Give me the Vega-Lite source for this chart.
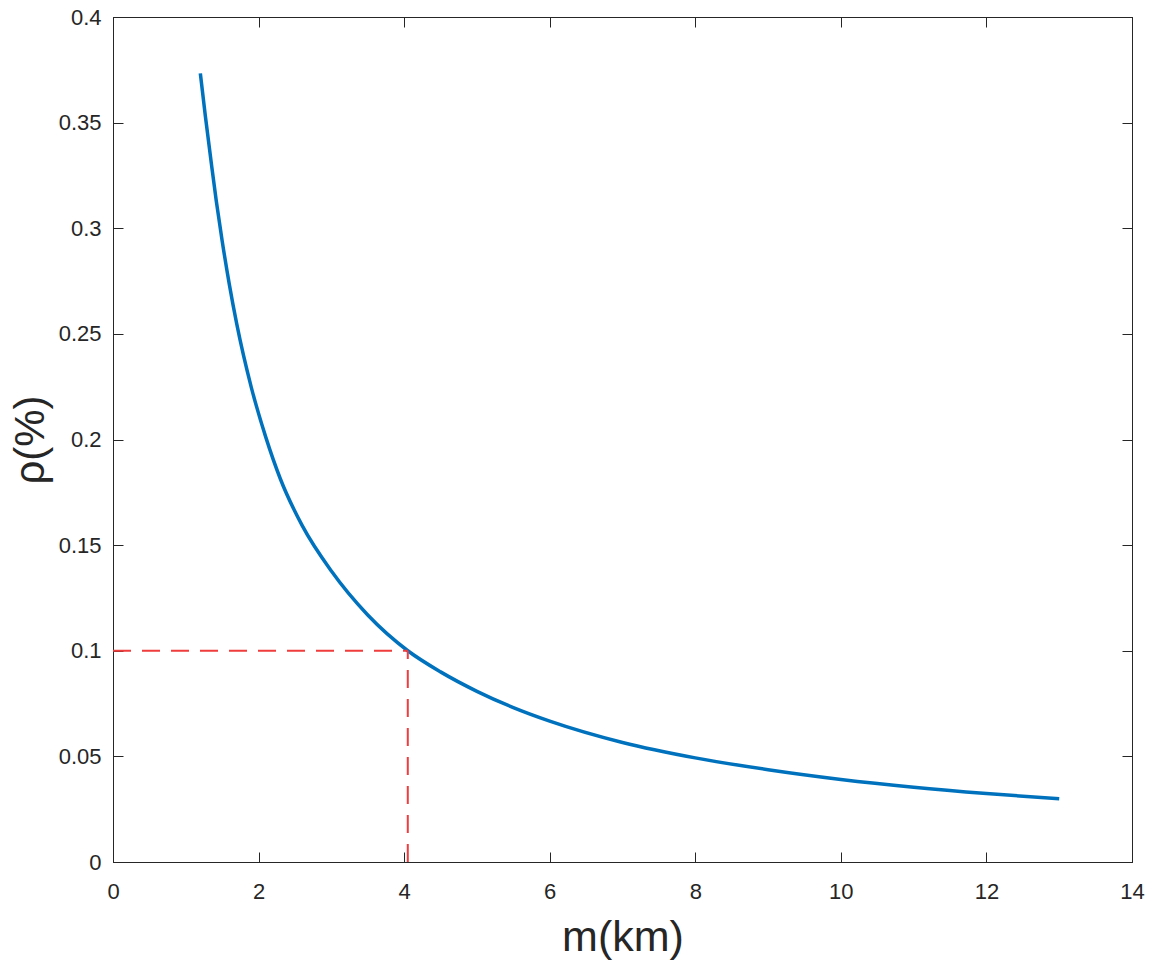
{
  "$schema": "https://vega.github.io/schema/vega-lite/v6.json",
  "autosize": "none",
  "width": 1019,
  "height": 845,
  "padding": {"left": 113, "top": 17, "right": 26, "bottom": 106},
  "background": "white",
  "config": {
    "view": {"stroke": "#262626", "strokeWidth": 1},
    "axis": {
      "grid": false,
      "domainColor": "#262626",
      "tickColor": "#262626",
      "labelColor": "#262626",
      "titleColor": "#262626",
      "labelFont": "Liberation Sans",
      "titleFont": "Liberation Sans",
      "labelFontSize": 22,
      "labelFlush": false,
      "labelOverlap": false,
      "titleFontWeight": "normal",
      "tickSize": -10
    }
  },
  "datasets": {
    "curve": [
      {"m": 1.2, "rho": 0.3733},
      {"m": 1.27, "rho": 0.3528},
      {"m": 1.35, "rho": 0.331},
      {"m": 1.42, "rho": 0.3127},
      {"m": 1.5, "rho": 0.294},
      {"m": 1.6, "rho": 0.2731},
      {"m": 1.7, "rho": 0.2547},
      {"m": 1.9, "rho": 0.2247},
      {"m": 2.1, "rho": 0.201},
      {"m": 2.3, "rho": 0.1813},
      {"m": 2.6, "rho": 0.1592},
      {"m": 3.0, "rho": 0.1377},
      {"m": 3.5, "rho": 0.1169},
      {"m": 4.05, "rho": 0.1},
      {"m": 4.5, "rho": 0.09},
      {"m": 5.0, "rho": 0.0808},
      {"m": 5.5, "rho": 0.0731},
      {"m": 6.0, "rho": 0.0667},
      {"m": 7.0, "rho": 0.0566},
      {"m": 8.0, "rho": 0.0493},
      {"m": 9.0, "rho": 0.0437},
      {"m": 10.0, "rho": 0.0391},
      {"m": 11.0, "rho": 0.0354},
      {"m": 12.0, "rho": 0.0324},
      {"m": 13.0, "rho": 0.0299}
    ],
    "guide": [
      {"m1": 0, "m2": 4.05, "r1": 0.1, "r2": 0.1},
      {"m1": 4.05, "m2": 4.05, "r1": 0, "r2": 0.1}
    ]
  },
  "layer": [
    {
      "data": {"name": "curve"},
      "mark": {"type": "line", "color": "#0072BD", "strokeWidth": 3.5, "interpolate": "monotone"},
      "encoding": {
        "x": {
          "field": "m", "type": "quantitative",
          "scale": {"domain": [0, 14], "nice": false},
          "axis": {"values": [0, 2, 4, 6, 8, 10, 12, 14], "title": "m(km)", "titleFontSize": 43, "labelPadding": 29, "titlePadding": 14, "format": "~g"}
        },
        "y": {
          "field": "rho", "type": "quantitative",
          "scale": {"domain": [0, 0.4], "nice": false},
          "axis": {"values": [0, 0.05, 0.1, 0.15, 0.2, 0.25, 0.3, 0.35, 0.4], "title": "ρ(%)", "titleFontSize": 42, "labelPadding": 22, "titlePadding": 6, "format": "~g"}
        }
      }
    },
    {
      "data": {"name": "guide"},
      "mark": {"type": "rule", "color": "#F03C3C", "strokeWidth": 2, "strokeDash": [18, 11]},
      "encoding": {
        "x": {"field": "m1", "type": "quantitative", "axis": {"orient": "top", "labels": false, "title": null, "values": [0, 2, 4, 6, 8, 10, 12, 14]}},
        "x2": {"field": "m2"},
        "y": {"field": "r1", "type": "quantitative", "axis": {"orient": "right", "labels": false, "title": null, "values": [0, 0.05, 0.1, 0.15, 0.2, 0.25, 0.3, 0.35, 0.4]}},
        "y2": {"field": "r2"}
      }
    }
  ],
  "resolve": {"axis": {"x": "independent", "y": "independent"}}
}
